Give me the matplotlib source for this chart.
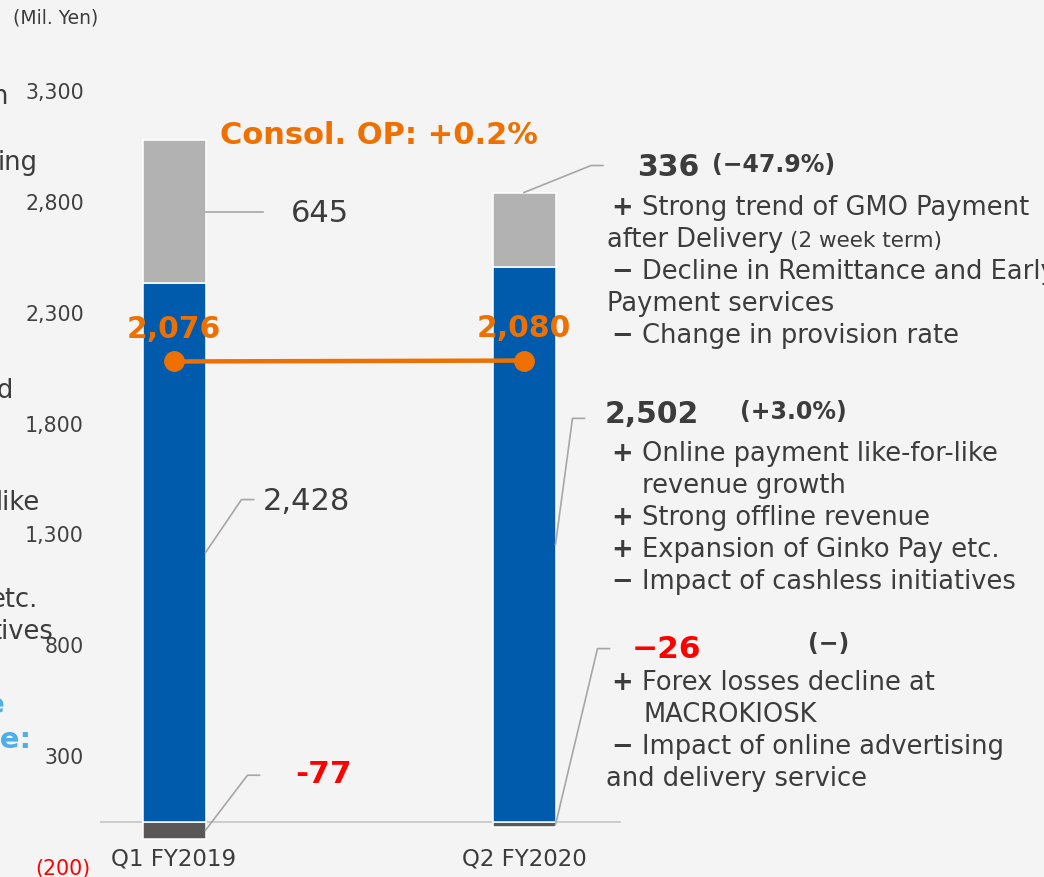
import matplotlib
matplotlib.use("Agg")
import matplotlib.pyplot as plt
import matplotlib.transforms as mtrans
import numpy as np

# data (Mil. Yen)
periods = ["Q1 FY2019", "Q2 FY2020"]
other = [-77, -26]
payment = [2428, 2502]
lending = [645, 336]
consol_op = [2076, 2080]
yticks = [-200, 300, 800, 1300, 1800, 2300, 2800, 3300]
ytick_labels = ["(200)", "300", "800", "1,300", "1,800", "2,300", "2,800", "3,300"]

W, H = 1044, 878
bg = "#f3f4f3"
blue = "#005bac"
gray = "#b2b2b2"
dark = "#595757"
orange = "#ee7000"
red = "#ff0000"
txt = "#3c3c3c"
lead = "#a6a6a6"
lblue = "#4eaee6"

plt.rcParams["font.family"] = ["DejaVu Sans"]

fig = plt.figure(figsize=(W / 100, H / 100), dpi=100, facecolor=bg)
ax = fig.add_axes([100 / W, 0, 944 / W, 1])
ax.set_facecolor(bg)
ax.set_xlim(-74 / 350, 870 / 350)
ax.set_ylim(-249.4, 3710.9)
for s in ax.spines.values():
    s.set_visible(False)


def fx(x):
    return x / W


def fy(y):
    return 1 - y / H


x = np.arange(len(periods))
w = 0.18
ax.axhline(0, xmin=0, xmax=520 / 944, color="#c8c8c8", lw=1.3, zorder=1)
ax.bar(x, other, w, color=dark, edgecolor="white", lw=1.1, zorder=2)
ax.bar(x, payment, w, color=blue, edgecolor="white", lw=1.1, zorder=2)
ax.bar(x, lending, w, bottom=payment, color=gray, edgecolor="white", lw=1.1, zorder=2)

ax.plot(x, consol_op, color=orange, lw=3.2, marker="o", ms=14, zorder=5)
for xi, v in zip(x, consol_op):
    ax.annotate(f"{v:,}", (xi, v), xytext=(0, 33), textcoords="offset pixels",
                ha="center", va="center", color=orange, fontsize=21.5,
                fontweight="bold", zorder=6)

ax.set_yticks(yticks, ytick_labels)
ax.tick_params(axis="y", length=0, pad=11.5, labelsize=14.8, labelcolor="#404040")
neg = ax.get_yticklabels()[0]
neg.set_color(red)
neg.set_transform(neg.get_transform() + mtrans.ScaledTranslation(0.06, 0, fig.dpi_scale_trans))
ax.set_xticks(x, periods)
ax.tick_params(axis="x", length=0, pad=-22, labelsize=16.5, labelcolor=txt)


def leader(xa, ya, pts):
    X0, Y0 = ax.transData.transform((xa, ya))
    xy = [(X0 + dx, Y0 - dy) for dx, dy in [(0, 0)] + pts]
    d = ax.transData.inverted().transform(xy)
    ax.plot(d[:, 0], d[:, 1], color=lead, lw=1.2, zorder=3, clip_on=False)


leader(x[0] + w / 2, payment[0] + lending[0] / 2, [(57, 0)])
leader(x[0] + w / 2, payment[0] / 2, [(36, -53), (48, -53)])
leader(x[0] + w / 2, other[0] / 2, [(42, -55), (54, -55)])
leader(x[1], payment[1] + lending[1], [(67, -27), (79, -27)])
leader(x[1] + w / 2, payment[1] / 2, [(17, -126), (29, -126)])
leader(x[1] + w / 2, other[1] / 2, [(42, -176), (54, -176)])

# Q1 value labels
fig.text(fx(291), fy(214), f"{lending[0]:,}", fontsize=22, color=txt, va="center")
fig.text(fx(263), fy(502), f"{payment[0]:,}", fontsize=22, color=txt, va="center")
fig.text(fx(295), fy(775), f"{other[0]}", fontsize=22.5, color=red, va="center",
         fontweight="bold")

fig.text(fx(220), fy(135), "Consol. OP: +0.2%", fontsize=22, color=orange,
         fontweight="bold", va="center")
fig.text(fx(13), fy(18), "(Mil. Yen)", fontsize=13.5, color=txt, va="center")

# Q2 headers
fig.text(fx(637), fy(167), f"{lending[1]:,}", fontsize=21.5, color=txt,
         fontweight="bold", va="center")
fig.text(fx(712), fy(165), "(\u221247.9%)", fontsize=17, color=txt,
         fontweight="bold", va="center")
fig.text(fx(605), fy(415), f"{payment[1]:,}", fontsize=21.5, color=txt,
         fontweight="bold", va="center")
fig.text(fx(740), fy(412), "(+3.0%)", fontsize=17, color=txt,
         fontweight="bold", va="center")
fig.text(fx(632), fy(650), f"\u2212{abs(other[1])}", fontsize=22.5, color=red,
         fontweight="bold", va="center")
fig.text(fx(808), fy(644), "(\u2212)", fontsize=17, color=txt,
         fontweight="bold", va="center")

fs = 18.5
body = [
    (208, "+", "Strong trend of GMO Payment"),
    (272, "\u2212", "Decline in Remittance and Early"),
    (336, "\u2212", "Change in provision rate"),
    (454, "+", "Online payment like-for-like"),
    (518, "+", "Strong offline revenue"),
    (550, "+", "Expansion of Ginko Pay etc."),
    (582, "\u2212", "Impact of cashless initiatives"),
    (683, "+", "Forex losses decline at"),
    (747, "\u2212", "Impact of online advertising"),
]
for yy, sign, line in body:
    fig.text(fx(611), fy(yy), sign, fontsize=fs, color=txt, fontweight="bold", va="center")
    fig.text(fx(642), fy(yy), line, fontsize=fs, color=txt, va="center")

plain = [
    (607, 240, "after Delivery"),
    (607, 304, "Payment services"),
    (642, 486, "revenue growth"),
    (643, 715, "MACROKIOSK"),
    (606, 779, "and delivery service"),
]
for xx, yy, line in plain:
    fig.text(fx(xx), fy(yy), line, fontsize=fs, color=txt, va="center")
fig.text(fx(790), fy(241), "(2 week term)", fontsize=15.5, color=txt, va="center")

# cut-off text from the neighbouring panel
left = [(8, 97, "n"), (38, 163, "ing"), (13, 391, "d"), (40, 503, "like"),
        (38, 600, "etc."), (53, 632, "tives")]
for xx, yy, s in left:
    fig.text(fx(xx), fy(yy), s, fontsize=fs, color=txt, ha="right", va="center")
fig.text(fx(5), fy(705), "e", fontsize=21, color=lblue, fontweight="bold",
         ha="right", va="center")
fig.text(fx(32), fy(740), "ue:", fontsize=21, color=lblue, fontweight="bold",
         ha="right", va="center")

fig.savefig("out.png", dpi=100, facecolor=bg)
